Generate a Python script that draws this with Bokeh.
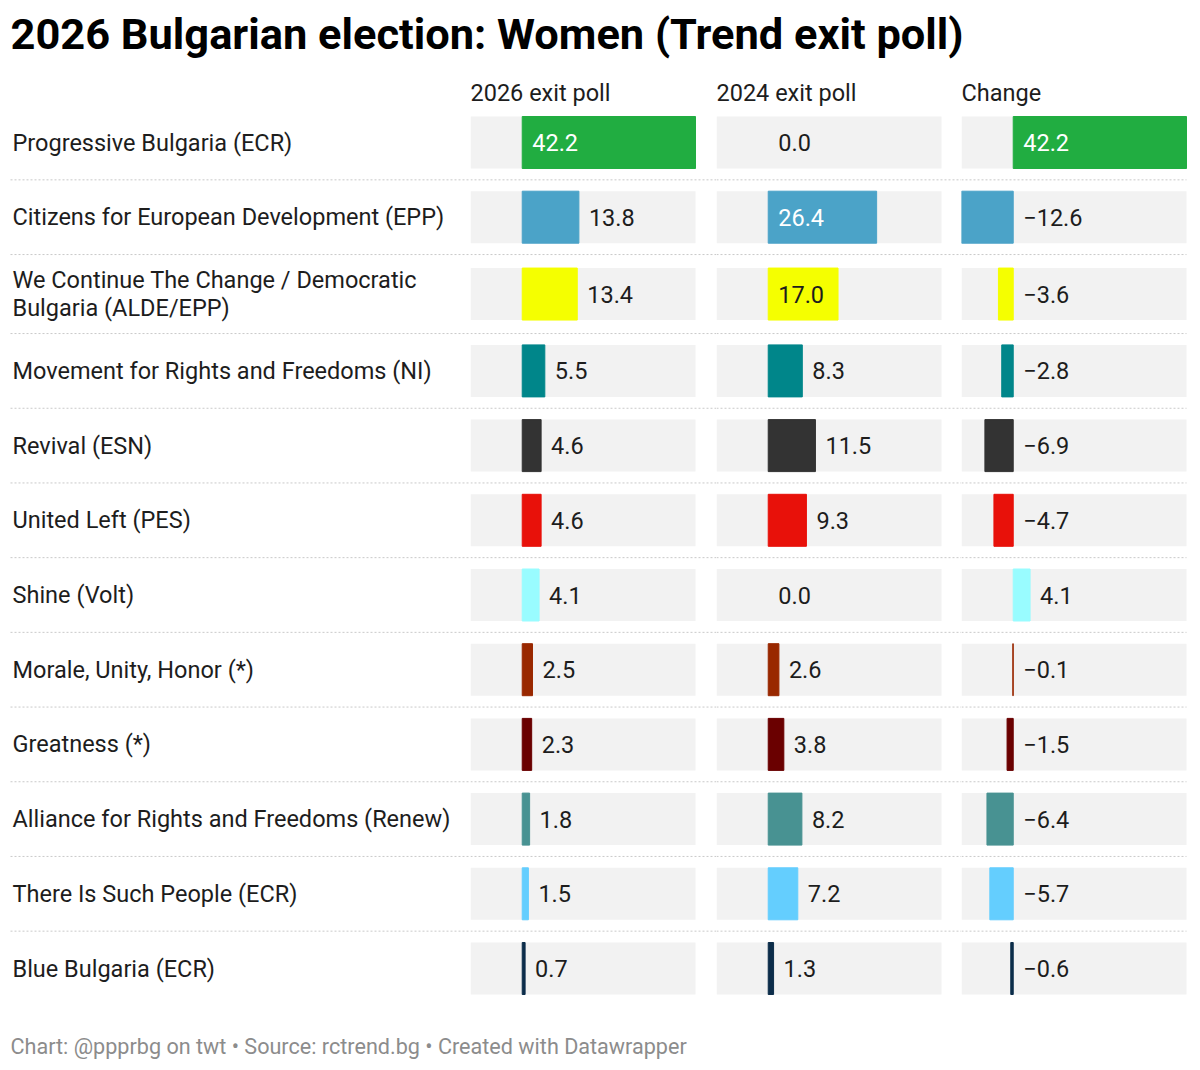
import textwrap
from bokeh.plotting import figure
from bokeh.models import Range1d, ColumnDataSource
from bokeh.layouts import row, column
from bokeh.embed import file_html
from bokeh.resources import INLINE
from bokeh.core.properties import value

# ---------------- data ----------------
title = "2026 Bulgarian election: Women (Trend exit poll)"
footer = "Chart: @ppprbg on twt \u2022 Source: rctrend.bg \u2022 Created with Datawrapper"
column_titles = ["2026 exit poll", "2024 exit poll", "Change"]
parties = [
    "Progressive Bulgaria (ECR)",
    "Citizens for European Development (EPP)",
    "We Continue The Change / Democratic Bulgaria (ALDE/EPP)",
    "Movement for Rights and Freedoms (NI)",
    "Revival (ESN)",
    "United Left (PES)",
    "Shine (Volt)",
    "Morale, Unity, Honor (*)",
    "Greatness (*)",
    "Alliance for Rights and Freedoms (Renew)",
    "There Is Such People (ECR)",
    "Blue Bulgaria (ECR)",
]
party_colors = [
    "#21ad41", "#4ba3c8", "#f5ff00", "#00868a", "#333333", "#e8110a",
    "#99fcff", "#992800", "#6a0000", "#489292", "#64cefe", "#0c2d4a",
]
poll_2026 = [42.2, 13.8, 13.4, 5.5, 4.6, 4.6, 4.1, 2.5, 2.3, 1.8, 1.5, 0.7]
poll_2024 = [0.0, 26.4, 17.0, 8.3, 11.5, 9.3, 0.0, 2.6, 3.8, 8.2, 7.2, 1.3]
change = [42.2, -12.6, -3.6, -2.8, -6.9, -4.7, 4.1, -0.1, -1.5, -6.4, -5.7, -0.6]

# ---------------- layout / style ----------------
FONT = "Roboto"
W = 1192
TITLE_H = 78
BODY_H = 932
FOOT_H = 58
LABEL_W = 470
BAR_W = 225
GAPS = [21, 20, 6]
PITCH = 74.7
TALL = 79.0
BAR_H = 52
FIRST_CENTER = 64
HEADER_MID = 14.5
PAD = 10
BG = "#f2f2f2"
DARK = "#1d1d1d"
SEP = "#c9c9c9"
TXT = "23.5px"

all_vals = poll_2026 + poll_2024 + change
XMIN = min(0.0, min(all_vals))
XMAX = max(all_vals)
K = BAR_W / (XMAX - XMIN)

wrapped = ["\n".join(textwrap.wrap(p, 42)) for p in parties]
heights = [PITCH if "\n" not in t else TALL for t in wrapped]
centers = []
top = FIRST_CENTER - heights[0] / 2
for h in heights:
    centers.append(top + h / 2)
    top += h
seps = []
acc = FIRST_CENTER - heights[0] / 2
for h in heights[:-1]:
    acc += h
    seps.append(acc)


def fmt(v):
    s = f"{abs(v):.1f}"
    return ("\u2212" + s) if v < 0 else s


def lum(hexc):
    r, g, b = (int(hexc[i:i + 2], 16) / 255 for i in (1, 3, 5))
    return 0.299 * r + 0.587 * g + 0.114 * b


def blank(width, height, xr, yr):
    p = figure(width=width, height=height, x_range=xr, y_range=yr,
               x_axis_type=None, y_axis_type=None,
               output_backend="svg", toolbar_location=None,
               min_border=0, min_border_left=0, min_border_right=0,
               min_border_top=0, min_border_bottom=0)
    p.grid.visible = False
    p.outline_line_color = None
    p.background_fill_color = "white"
    p.border_fill_color = "white"
    p.title.visible = False
    return p


# title
tf = blank(W, TITLE_H, Range1d(0, W), Range1d(TITLE_H, 0))
tf.text(x=[10], y=[34], text=[title], text_font=value(FONT), text_font_style="bold",
        text_font_size="43.4px", text_color="#000000", text_baseline="middle")

# labels column
lf = blank(LABEL_W, BODY_H, Range1d(0, LABEL_W), Range1d(BODY_H, 0))
lf.segment(x0=10, x1=LABEL_W, y0=seps, y1=seps, line_color=SEP, line_width=1, line_dash="2 2")
lf.text(x=12, y=centers, text=wrapped, text_font=value(FONT), text_font_size=TXT,
        text_color=DARK, text_baseline="middle", text_line_height=0.98)

figs = [lf]
for j, (ctitle, vals) in enumerate(zip(column_titles, [poll_2026, poll_2024, change])):
    gap = GAPS[j]
    xr = Range1d(XMIN, XMAX + gap / K)
    f = blank(BAR_W + gap, BODY_H, xr, Range1d(BODY_H, 0))
    sep_end = xr.end if j < len(column_titles) - 1 else XMAX
    f.segment(x0=xr.start, x1=sep_end, y0=seps, y1=seps, line_color=SEP,
              line_width=1, line_dash="2 2")
    f.hbar(y=centers, left=XMIN, right=XMAX, height=BAR_H, fill_color=BG, line_color=None)
    src = ColumnDataSource(dict(y=centers, v=vals, c=party_colors,
                                la=[0.0 if v == 0 else 1.0 for v in vals]))
    f.hbar(y="y", left=0, right="v", height=BAR_H, fill_color="c", line_color="c",
           line_alpha="la", line_width=1, source=src)
    f.text(x=[XMIN], y=[HEADER_MID], text=[ctitle], text_font=value(FONT),
           text_font_size=TXT, text_color=DARK, text_baseline="middle")
    lx, lt, lc = [], [], []
    for v, c in zip(vals, party_colors):
        t = fmt(v)
        est = len(t) * 12
        if v > 0 and v * K >= est + 2 * PAD:
            lx.append(0.0)
            lc.append("#ffffff" if lum(c) < 0.6 else DARK)
        elif v > 0:
            lx.append(v)
            lc.append(DARK)
        else:
            lx.append(0.0)
            lc.append(DARK)
        lt.append(t)
    lsrc = ColumnDataSource(dict(x=lx, y=centers, t=lt, col=lc))
    f.text(x="x", y="y", text="t", text_color="col", source=lsrc, x_offset=PAD,
           text_font=value(FONT), text_font_size=TXT, text_baseline="middle")
    figs.append(f)

body = row(figs, spacing=0)

ff = blank(W, FOOT_H, Range1d(0, W), Range1d(FOOT_H, 0))
ff.text(x=[10], y=[36], text=[footer], text_font=value(FONT), text_font_size="21.6px",
        text_color="#8c8c8c", text_baseline="middle")

page = column([tf, body, ff], spacing=0)
open("out.html", "w").write(file_html(page, INLINE))
